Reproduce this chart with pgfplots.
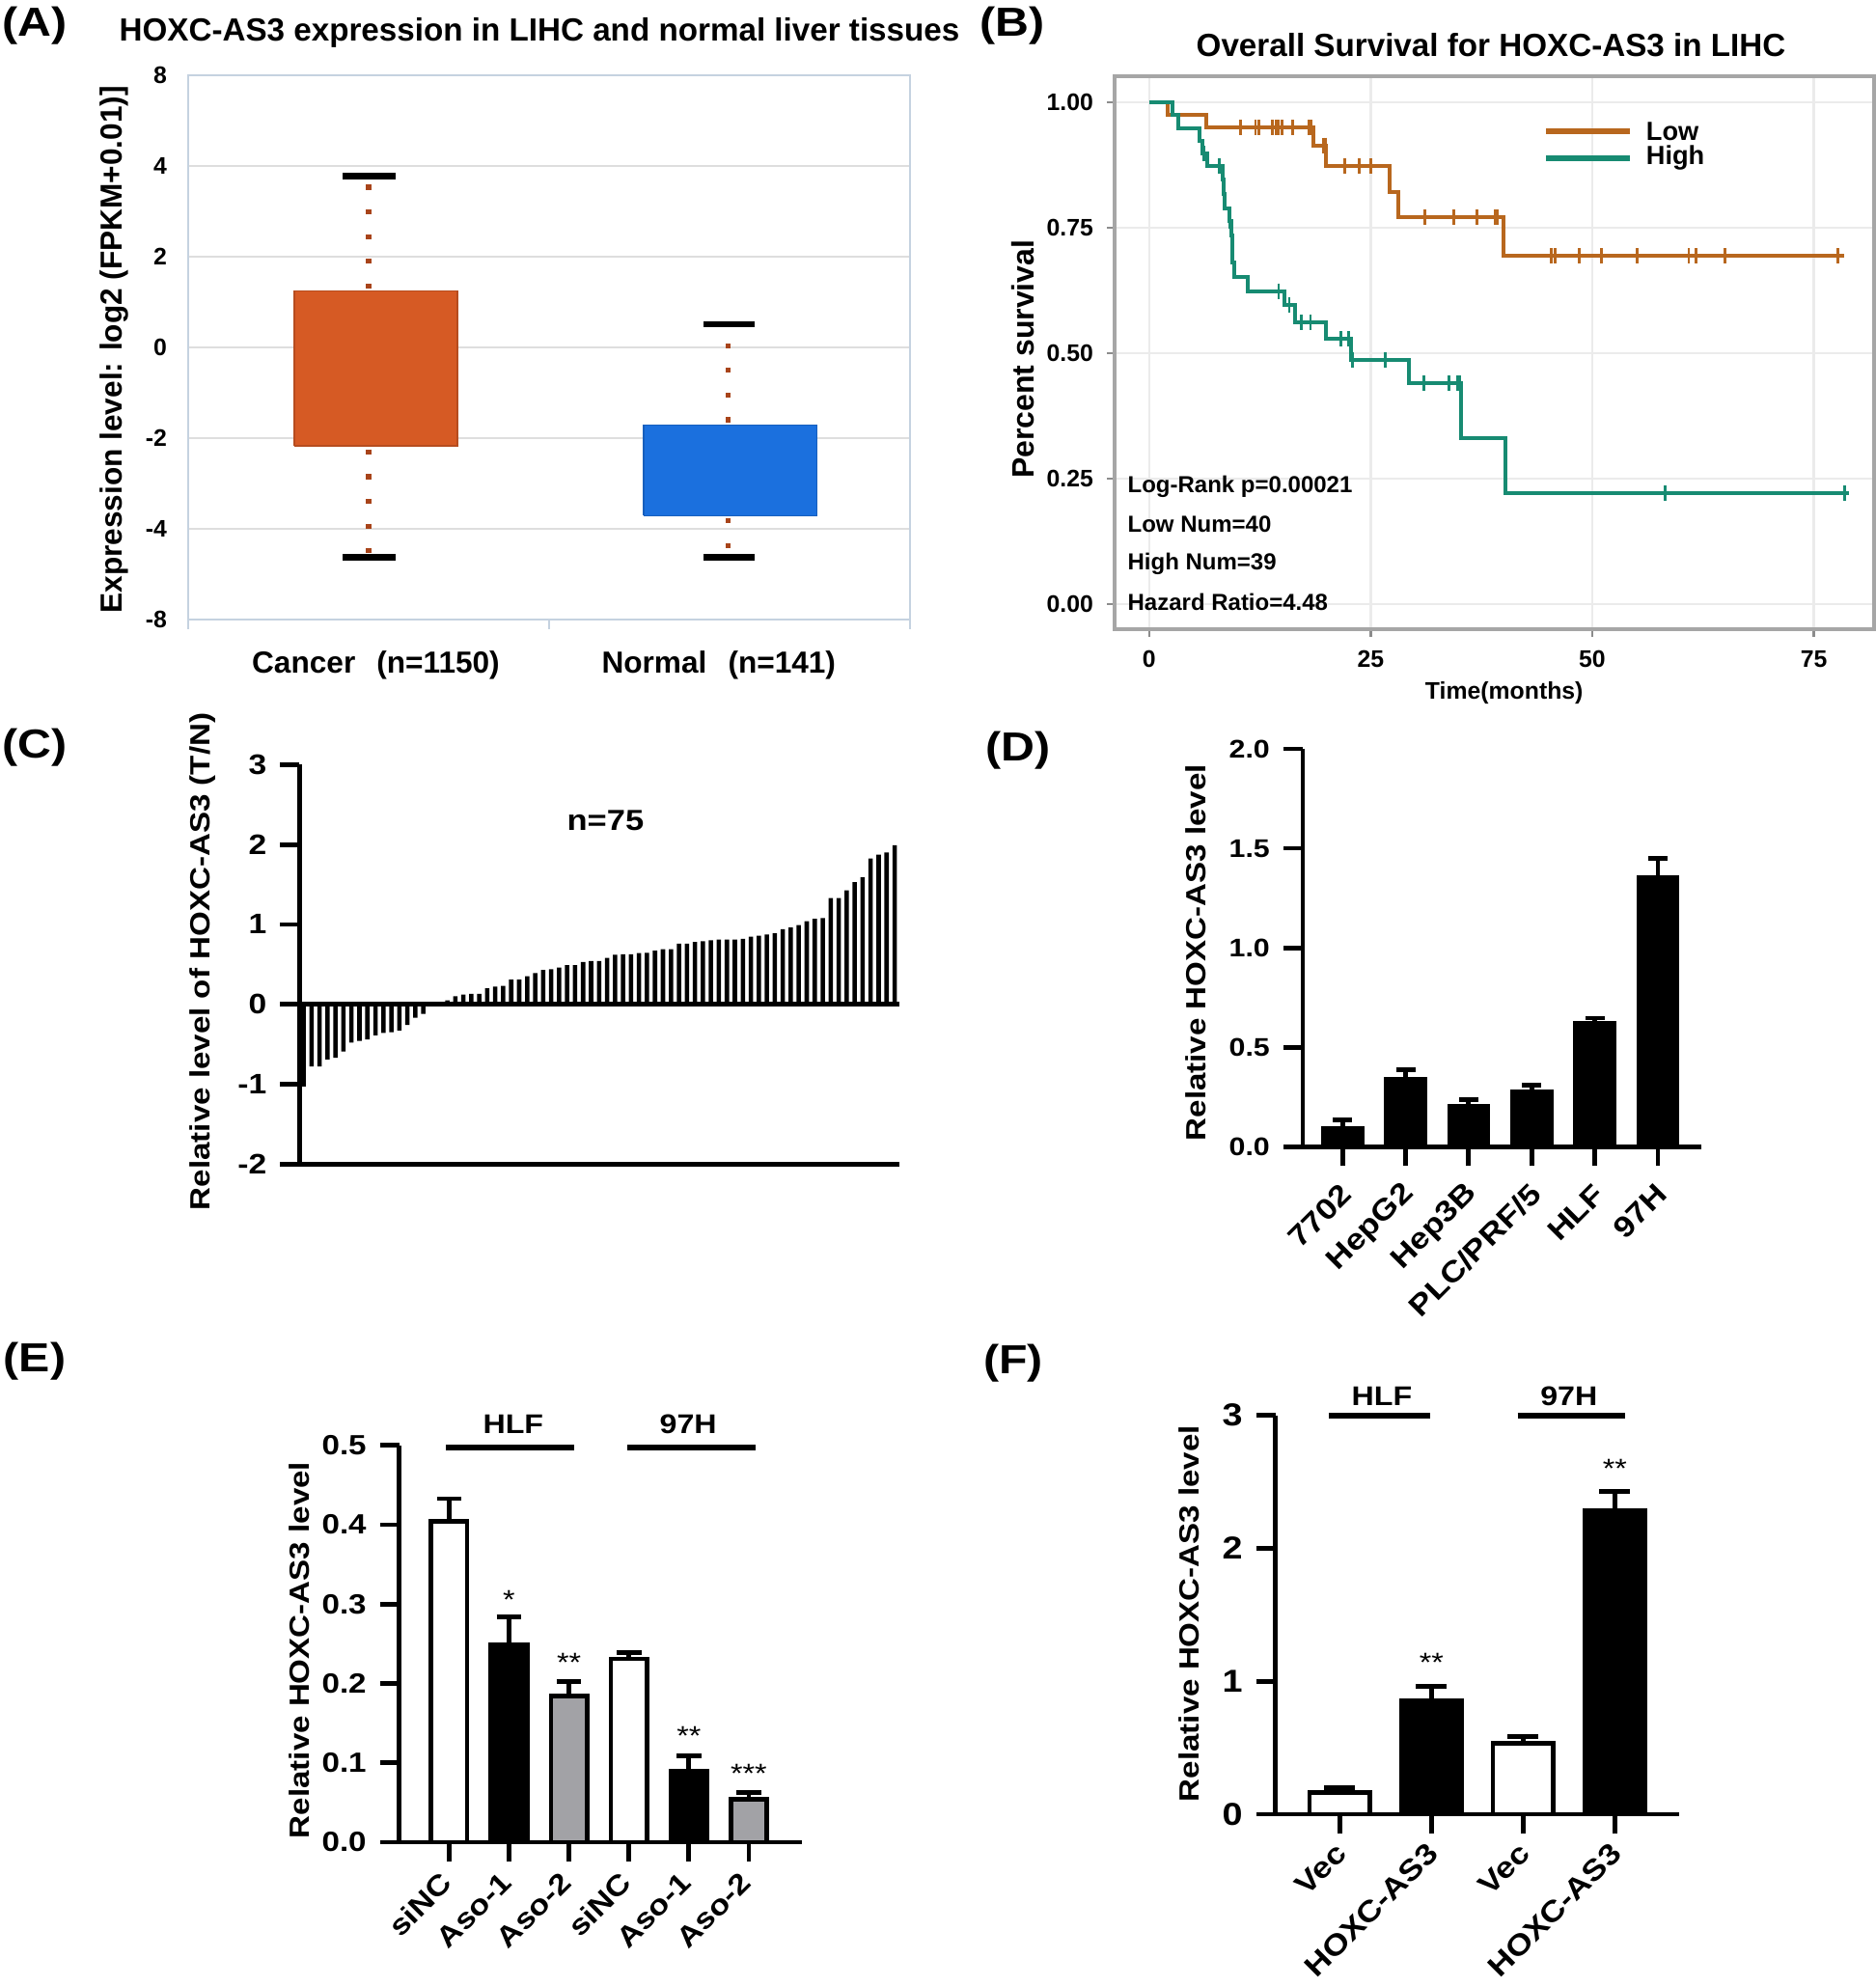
\documentclass[border=0pt]{standalone}
\usepackage{pgfplots}
\pgfplotsset{compat=1.18}
\usepackage{fontspec}
\setmainfont{Liberation Sans}
\newfontfamily\wideF{Liberation Sans}[FakeStretch=1.15]
\newcommand\af[1]{\bfseries\fontsize{#1}{#1}\selectfont}
\newcommand\pf[1]{\wideF\bfseries\fontsize{#1}{#1}\selectfont}

\definecolor{cancer}{HTML}{D65A24}
\definecolor{normal}{HTML}{1B70DE}
\definecolor{whisk}{HTML}{A8441A}
\definecolor{frameA}{HTML}{C5D2E0}
\definecolor{lowc}{HTML}{B8671E}
\definecolor{highc}{HTML}{178B72}
\definecolor{grayb}{HTML}{A2A2A6}

\pgfplotsset{
  prism/.style={
    scale only axis, anchor=south west, clip=false,
    axis x line=bottom, axis y line=left,
    axis line style={line width=1.2pt, -},
    tick style={line width=1.2pt, black},
    tick align=outside, major tick length=5pt,
    enlargelimits=false,
    ylabel style={anchor=center},
  },
  errs/.style={
    error bars/y dir=plus, error bars/y explicit,
    error bars/error bar style={line width=1.2pt, black},
    error bars/error mark options={rotate=90, line width=1.2pt, black, mark size=#1},
  },
}

\begin{document}
\begin{tikzpicture}
\useasboundingbox (0,0) rectangle (486pt,514.5pt);

% panel letters
\node[font=\pf{10.5}] at (9pt,507.9pt) {(A)};
\node[font=\pf{10.5}] at (262.25pt,507.9pt) {(B)};
\node[font=\pf{10.5}] at (9pt,320.9pt) {(C)};
\node[font=\pf{10.5}] at (263.75pt,320pt) {(D)};
\node[font=\pf{10.5}] at (9pt,161.75pt) {(E)};
\node[font=\pf{10.5}] at (262.5pt,161.25pt) {(F)};

% ---------- (A) box plot ----------
\node[font=\af{8.3}] at (139.75pt,506pt) {HOXC-AS3 expression in LIHC and normal liver tissues};
\begin{axis}[at={(48.75pt,354pt)}, anchor=south west, scale only axis,
  width=187pt, height=141pt,
  xmin=0, xmax=2, ymin=-6, ymax=6,
  axis line style={draw=frameA, line width=0.7pt},
  ytick={-6,-4,-2,0,2,4,6}, yticklabels={-8,-4,-2,0,2,4,8},
  ymajorgrids, major grid style={draw=black!13, line width=0.7pt},
  xtick={0.52,1.47},
  xticklabels={Cancer\hspace{0.7em}(n=1150),Normal\hspace{0.7em}(n=141)},
  minor xtick={0,1,2},
  tick align=outside, tick pos=left, major tick length=0pt, minor tick length=2.5pt,
  minor tick style={draw=frameA, line width=0.7pt},
  yticklabel style={font=\af{6.2}, xshift=-2pt},
  xticklabel style={font=\af{7.9}, yshift=-4.5pt},
  ylabel={Expression level: log2 (FPKM+0.01)]},
  ylabel style={font=\af{7.9}, at={(axis description cs:-0.103,0.496)}, anchor=center},
]
\addplot[fill=cancer, draw=cancer!85!black, line width=0.3pt] coordinates
  {(0.294,-2.17) (0.746,-2.17) (0.746,1.24) (0.294,1.24) (0.294,-2.17)};
\addplot[fill=normal, draw=normal!85!black, line width=0.3pt] coordinates
  {(1.262,-3.71) (1.743,-3.71) (1.743,-1.71) (1.262,-1.71) (1.262,-3.71)};
\addplot[whisk, line width=1.3pt, dash pattern=on 1.3pt off 5.1pt] coordinates {(0.50,1.30) (0.50,3.70)};
\addplot[whisk, line width=1.3pt, dash pattern=on 1.3pt off 5.1pt] coordinates {(0.50,-2.25) (0.50,-4.55)};
\addplot[whisk, line width=1.3pt, dash pattern=on 1.3pt off 5.1pt] coordinates {(1.497,-1.65) (1.497,0.45)};
\addplot[whisk, line width=1.3pt, dash pattern=on 1.3pt off 5.1pt] coordinates {(1.497,-3.77) (1.497,-4.55)};
\addplot[black, line width=1.6pt] coordinates {(0.428,3.78) (0.575,3.78)};
\addplot[black, line width=1.6pt] coordinates {(0.428,-4.63) (0.575,-4.63)};
\addplot[black, line width=1.6pt] coordinates {(1.428,0.51) (1.570,0.51)};
\addplot[black, line width=1.6pt] coordinates {(1.428,-4.63) (1.570,-4.63)};
\end{axis}

% ---------- (B) Kaplan-Meier ----------
\node[font=\af{8.3}] at (386.25pt,502.75pt) {Overall Survival for HOXC-AS3 in LIHC};
\begin{axis}[at={(288.75pt,351.5pt)}, anchor=south west, scale only axis,
  width=196.75pt, height=143.25pt,
  xmin=-3.9, xmax=81.8, ymin=-0.05, ymax=1.052,
  axis line style={draw=black!35, line width=0.8pt},
  xtick={0,25,50,75}, xticklabels={0,25,50,75},
  ytick={0,0.25,0.5,0.75,1}, yticklabels={0.00,0.25,0.50,0.75,1.00},
  grid=major, major grid style={draw=black!8, line width=0.6pt},
  tick align=outside, tick pos=left, major tick length=2pt,
  tick style={black!45, line width=0.6pt},
  tick label style={font=\af{6.2}},
  xlabel={Time(months)}, ylabel={Percent survival},
  xlabel style={font=\af{6.2}, at={(axis description cs:0.513,-0.115)}, anchor=center},
  ylabel style={font=\af{8}, at={(axis description cs:-0.121,0.488)}, anchor=center},
  clip=false,
]
\addplot[lowc, line width=1pt, const plot] coordinates {
  (0,1) (2.1,0.975) (6.4,0.950) (18.5,0.914) (20.0,0.873) (27.1,0.822)
  (28.1,0.771) (40.0,0.694) (78.4,0.694)};
\addplot[highc, line width=1pt, const plot] coordinates {
  (0,1) (2.6,0.975) (3.3,0.949) (5.7,0.924) (6.0,0.898) (6.6,0.873)
  (8.3,0.846) (8.4,0.818) (8.5,0.789) (9.1,0.763) (9.3,0.735) (9.35,0.708)
  (9.4,0.680) (9.6,0.651) (11.1,0.624) (15.3,0.597) (16.5,0.562) (20.0,0.528)
  (22.8,0.486) (29.3,0.440) (35.2,0.330) (40.2,0.221) (79.0,0.221)};
\addplot[lowc, only marks, mark=|, mark size=2pt, mark options={line width=0.7pt}] coordinates {
  (10.3,0.95) (12.0,0.95) (12.4,0.95) (13.9,0.95) (14.3,0.95) (14.6,0.95) (15.0,0.95)
  (16.2,0.95) (18.05,0.95) (18.3,0.95) (19.7,0.914) (19.9,0.914)
  (22.1,0.873) (23.7,0.873) (25.0,0.873)
  (31.1,0.771) (34.4,0.771) (37.0,0.771) (39.1,0.771) (39.3,0.771)
  (45.4,0.694) (45.8,0.694) (48.5,0.694) (51.0,0.694) (55.1,0.694)
  (60.9,0.694) (61.7,0.694) (65.0,0.694) (77.7,0.694)};
\addplot[highc, only marks, mark=|, mark size=2pt, mark options={line width=0.7pt}] coordinates {
  (6.2,0.898) (7.9,0.873) (9.1,0.763) (14.6,0.624) (15.8,0.597) (17.2,0.562)
  (18.2,0.562) (21.6,0.528) (22.5,0.528) (22.9,0.486) (26.6,0.486)
  (31.0,0.440) (33.8,0.440) (34.8,0.440) (35.0,0.440) (58.2,0.221) (78.5,0.221)};
% legend
\addplot[lowc, line width=1.5pt] coordinates {(44.8,0.942) (54.3,0.942)};
\addplot[highc, line width=1.5pt] coordinates {(44.8,0.889) (54.3,0.889)};
\node[anchor=west, font=\af{6.8}, inner sep=0pt] at (axis cs:56,0.942) {Low};
\node[anchor=west, font=\af{6.8}, inner sep=0pt] at (axis cs:56,0.889) {High};
\node[anchor=west, font=\af{6}, inner sep=0pt] at (axis cs:-2.5,0.234) {Log-Rank p=0.00021};
\node[anchor=west, font=\af{6}, inner sep=0pt] at (axis cs:-2.5,0.159) {Low Num=40};
\node[anchor=west, font=\af{6}, inner sep=0pt] at (axis cs:-2.5,0.081) {High Num=39};
\node[anchor=west, font=\af{6}, inner sep=0pt] at (axis cs:-2.5,0.004) {Hazard Ratio=4.48};
\end{axis}

% ---------- (C) waterfall ----------
\begin{axis}[prism, at={(77.6pt,212.95pt)}, width=155.4pt, height=103.45pt,
  xmin=0.5, xmax=75.6, ymin=-2, ymax=3,
  ytick={-2,-1,0,1,2,3}, yticklabels={-2,-1,0,1,2,3}, xtick=\empty,
  yticklabel style={font=\pf{7.3}},
  ylabel={Relative level of HOXC-AS3 (T/N)},
  ylabel style={font=\pf{7.2}, at={(axis description cs:-0.162,0.507)}},
]
\addplot[ybar, bar width=0.55, fill=black, draw=none] coordinates {
  (1,-1.03) (2,-0.78) (3,-0.78) (4,-0.69) (5,-0.67) (6,-0.59) (7,-0.48) (8,-0.46)
  (9,-0.44) (10,-0.39) (11,-0.36) (12,-0.35) (13,-0.33) (14,-0.26) (15,-0.17) (16,-0.12)
  (17,-0.01) (18,0.01) (19,0.05) (20,0.10) (21,0.12) (22,0.13) (23,0.13) (24,0.20)
  (25,0.22) (26,0.23) (27,0.31) (28,0.31) (29,0.35) (30,0.39) (31,0.43) (32,0.44)
  (33,0.46) (34,0.49) (35,0.49) (36,0.53) (37,0.54) (38,0.54) (39,0.58) (40,0.62)
  (41,0.625) (42,0.625) (43,0.64) (44,0.645) (45,0.67) (46,0.69) (47,0.69) (48,0.76)
  (49,0.76) (50,0.78) (51,0.79) (52,0.80) (53,0.81) (54,0.81) (55,0.81) (56,0.82)
  (57,0.845) (58,0.86) (59,0.875) (60,0.89) (61,0.94) (62,0.96) (63,0.99) (64,1.04)
  (65,1.07) (66,1.08) (67,1.33) (68,1.33) (69,1.425) (70,1.53) (71,1.59) (72,1.825)
  (73,1.875) (74,1.90) (75,1.99)};
\addplot[black, line width=1.2pt] coordinates {(0.5,0) (75.6,0)};
\node[font=\pf{7.5}] at (axis cs:38.8,2.30) {n=75};
\end{axis}

% ---------- (D) cell lines ----------
\begin{axis}[prism, at={(337.5pt,217.4pt)}, width=103.25pt, height=103.1pt,
  xmin=-0.63, xmax=5.69, ymin=0, ymax=2,
  ytick={0,0.5,1,1.5,2}, yticklabels={0.0,0.5,1.0,1.5,2.0},
  xtick={0,...,5}, xticklabels={7702,HepG2,Hep3B,PLC/PRF/5,HLF,97H},
  yticklabel style={font=\pf{6.6}},
  xticklabel style={font=\pf{7.6}, rotate=45, anchor=east, yshift=-5pt},
  ylabel={Relative HOXC-AS3 level},
  ylabel style={font=\pf{7.2}, at={(axis description cs:-0.269,0.488)}},
]
\addplot[ybar, bar width=0.66, fill=black, draw=black, errs=2.5pt] coordinates {
  (0,0.100) +- (0,0.037) (1,0.349) +- (0,0.039) (2,0.209) +- (0,0.030)
  (3,0.283) +- (0,0.026) (4,0.630) +- (0,0.017) (5,1.359) +- (0,0.089)};
\end{axis}

% ---------- (E) knockdown ----------
\begin{axis}[prism, at={(103.45pt,37.25pt)}, width=104.2pt, height=102.8pt,
  xmin=-0.83, xmax=5.88, ymin=0, ymax=0.5,
  ytick={0,0.1,0.2,0.3,0.4,0.5}, yticklabels={0.0,0.1,0.2,0.3,0.4,0.5},
  xtick={0,...,5}, xticklabels={siNC,Aso-1,Aso-2,siNC,Aso-1,Aso-2},
  yticklabel style={font=\pf{7.2}},
  xticklabel style={font=\pf{7.4}, rotate=45, anchor=east, yshift=-2.5pt},
  ylabel={Relative HOXC-AS3 level},
  ylabel style={font=\pf{7.2}, at={(axis description cs:-0.249,0.484)}},
]
\addplot[ybar, bar width=0.6, fill=white, draw=black, line width=1.2pt, errs=3.2pt] coordinates {
  (0,0.404) +- (0,0.029) (3,0.231) +- (0,0.008)};
\addplot[ybar, bar width=0.6, fill=black, draw=black, line width=1.2pt, errs=3.2pt] coordinates {
  (1,0.249) +- (0,0.035) (4,0.089) +- (0,0.020)};
\addplot[ybar, bar width=0.6, fill=grayb, draw=black, line width=1.2pt, errs=3.2pt] coordinates {
  (2,0.184) +- (0,0.018) (5,0.054) +- (0,0.009)};
\addplot[black, line width=1.5pt] coordinates {(-0.05,0.4975) (2.09,0.4975)};
\addplot[black, line width=1.5pt] coordinates {(2.97,0.4975) (5.12,0.4975)};
\node[font=\pf{7}] at (axis cs:1.07,0.527) {HLF};
\node[font=\pf{7}] at (axis cs:3.99,0.527) {97H};
\node[font=\wideF\fontsize{7}{7}\selectfont] at (axis cs:1,0.305) {*};
\node[font=\wideF\fontsize{7}{7}\selectfont] at (axis cs:2,0.226) {**};
\node[font=\wideF\fontsize{7}{7}\selectfont] at (axis cs:4,0.134) {**};
\node[font=\wideF\fontsize{7}{7}\selectfont] at (axis cs:5,0.086) {***};
\end{axis}

% ---------- (F) overexpression ----------
\begin{axis}[prism, at={(330.45pt,44.5pt)}, width=104.5pt, height=103.35pt,
  xmin=-0.7, xmax=3.7, ymin=0, ymax=3,
  ytick={0,1,2,3}, yticklabels={0,1,2,3},
  xtick={0,...,3}, xticklabels={Vec,HOXC-AS3,Vec,HOXC-AS3},
  yticklabel style={font=\pf{8.2}},
  xticklabel style={font=\pf{7.6}, rotate=45, anchor=east, yshift=-3pt, xshift=1pt},
  ylabel={Relative HOXC-AS3 level},
  ylabel style={font=\pf{7.2}, at={(axis description cs:-0.215,0.503)}},
]
\addplot[ybar, bar width=0.66, fill=white, draw=black, line width=1.2pt, errs=4pt] coordinates {
  (0,0.164) +- (0,0.034) (2,0.535) +- (0,0.047)};
\addplot[ybar, bar width=0.66, fill=black, draw=black, line width=1.2pt, errs=4pt] coordinates {
  (1,0.852) +- (0,0.107) (3,2.28) +- (0,0.15)};
\addplot[black, line width=1.5pt] coordinates {(-0.12,3.0) (0.99,3.0)};
\addplot[black, line width=1.5pt] coordinates {(1.94,3.0) (3.11,3.0)};
\node[font=\pf{7}] at (axis cs:0.46,3.142) {HLF};
\node[font=\pf{7}] at (axis cs:2.5,3.142) {97H};
\node[font=\wideF\fontsize{7}{7}\selectfont] at (axis cs:1,1.14) {**};
\node[font=\wideF\fontsize{7}{7}\selectfont] at (axis cs:3,2.60) {**};
\end{axis}
\end{tikzpicture}
\end{document}
